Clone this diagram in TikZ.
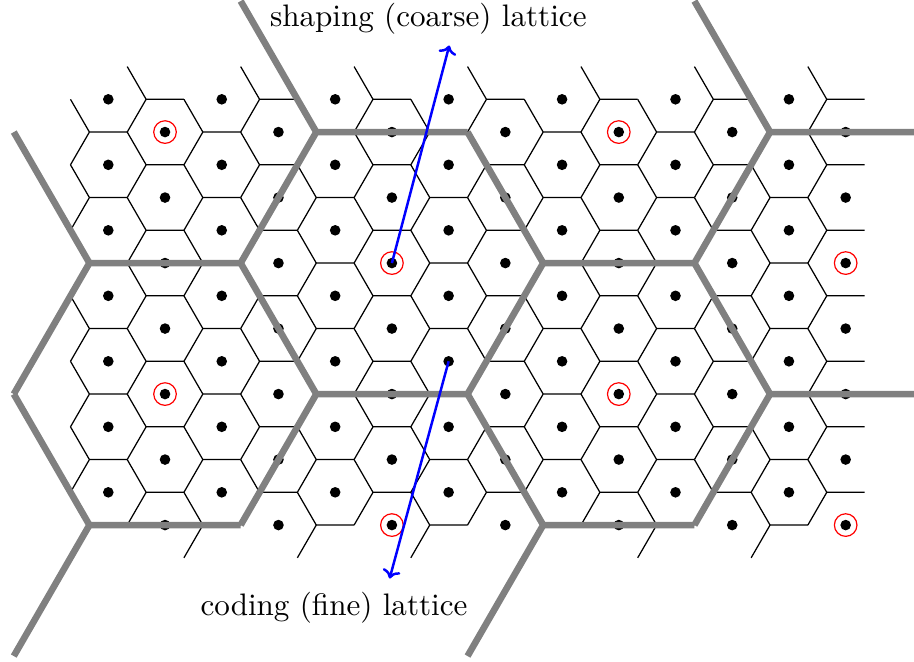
\documentclass[tikz,border=0pt]{standalone}
\usepackage{graphicx}
\usetikzlibrary{arrows.meta,calc}
\begin{document}
\begin{tikzpicture}[x=0.5pt,y=-0.5pt,
  fineline/.style={line width=0.62pt,black,line join=miter},
  coarseline/.style={line width=3.3pt,gray,line join=miter},
  finedot/.style={circle,fill=black,inner sep=0pt,minimum size=5.3pt},
  coarsemark/.style={circle,draw=red,line width=0.6pt,inner sep=0pt,minimum size=11.3pt},
  pointer/.style={blue,line width=1.24pt,->},
  caption/.style={anchor=base,inner sep=0pt,font=\normalsize}]
\useasboundingbox (0,0) rectangle (914,661);
\begin{scope}
\clip (0,0) rectangle (914,661);
% fine Voronoi cells (one Y per point)
\foreach \a in {-1,...,12}{
  \foreach \b in {0,...,13}{
    \pgfmathtruncatemacro{\parity}{mod(\a+\b+100,2)}
    \ifnum\parity=0
      \coordinate (fv) at ({108.3+56.72*\a+37.82},{99.3+32.75*\b});
      \draw[fineline] ($(fv)+(-18.91,-32.75)$) -- (fv) -- ($(fv)+(-18.91,32.75)$) (fv) -- ++(37.82,0);
    \fi
  }
}
% fine lattice points
\foreach \a in {0,...,13}{
  \foreach \b in {0,...,13}{
    \pgfmathtruncatemacro{\parity}{mod(\a+\b+100,2)}
    \ifnum\parity=0
      \node[finedot] (p-\a-\b) at ({108.3+56.72*\a},{99.3+32.75*\b}) {};
    \fi
  }
}
% coarse lattice points
\foreach \a/\b in {1/1,9/1,5/5,13/5,1/9,9/9,5/13,13/13}{
  \node[coarsemark] (c-\a-\b) at ({108.3+56.72*\a},{99.3+32.75*\b}) {};
}
% coarse Voronoi cells
\foreach \A/\B in {0/0,2/0,-1/1,1/1,0/2,2/2,-1/3,1/3}{
  \coordinate (cv) at ({108.3+56.72*(1+4*\A)+151.28},{99.3+32.75*(1+4*\B)});
  \draw[coarseline] ($(cv)+(-75.64,-131)$) -- (cv) -- ($(cv)+(-75.64,131)$) (cv) -- ++(151.28,0);
}
\end{scope}
% labels and pointers
\node[caption] (shapinglabel) at (428.3,26.7) {\scalebox{1.555}{shaping (coarse) lattice}};
\node[caption] (codinglabel) at (334,615) {\scalebox{1.555}{coding (fine) lattice}};
\coordinate (shapingend) at (449.3,45.5);
\coordinate (codingend) at (389.6,578.5);
\draw[pointer] (p-5-5.center) -- (shapingend);
\draw[pointer] (p-6-8.center) -- (codingend);
\end{tikzpicture}
\end{document}
